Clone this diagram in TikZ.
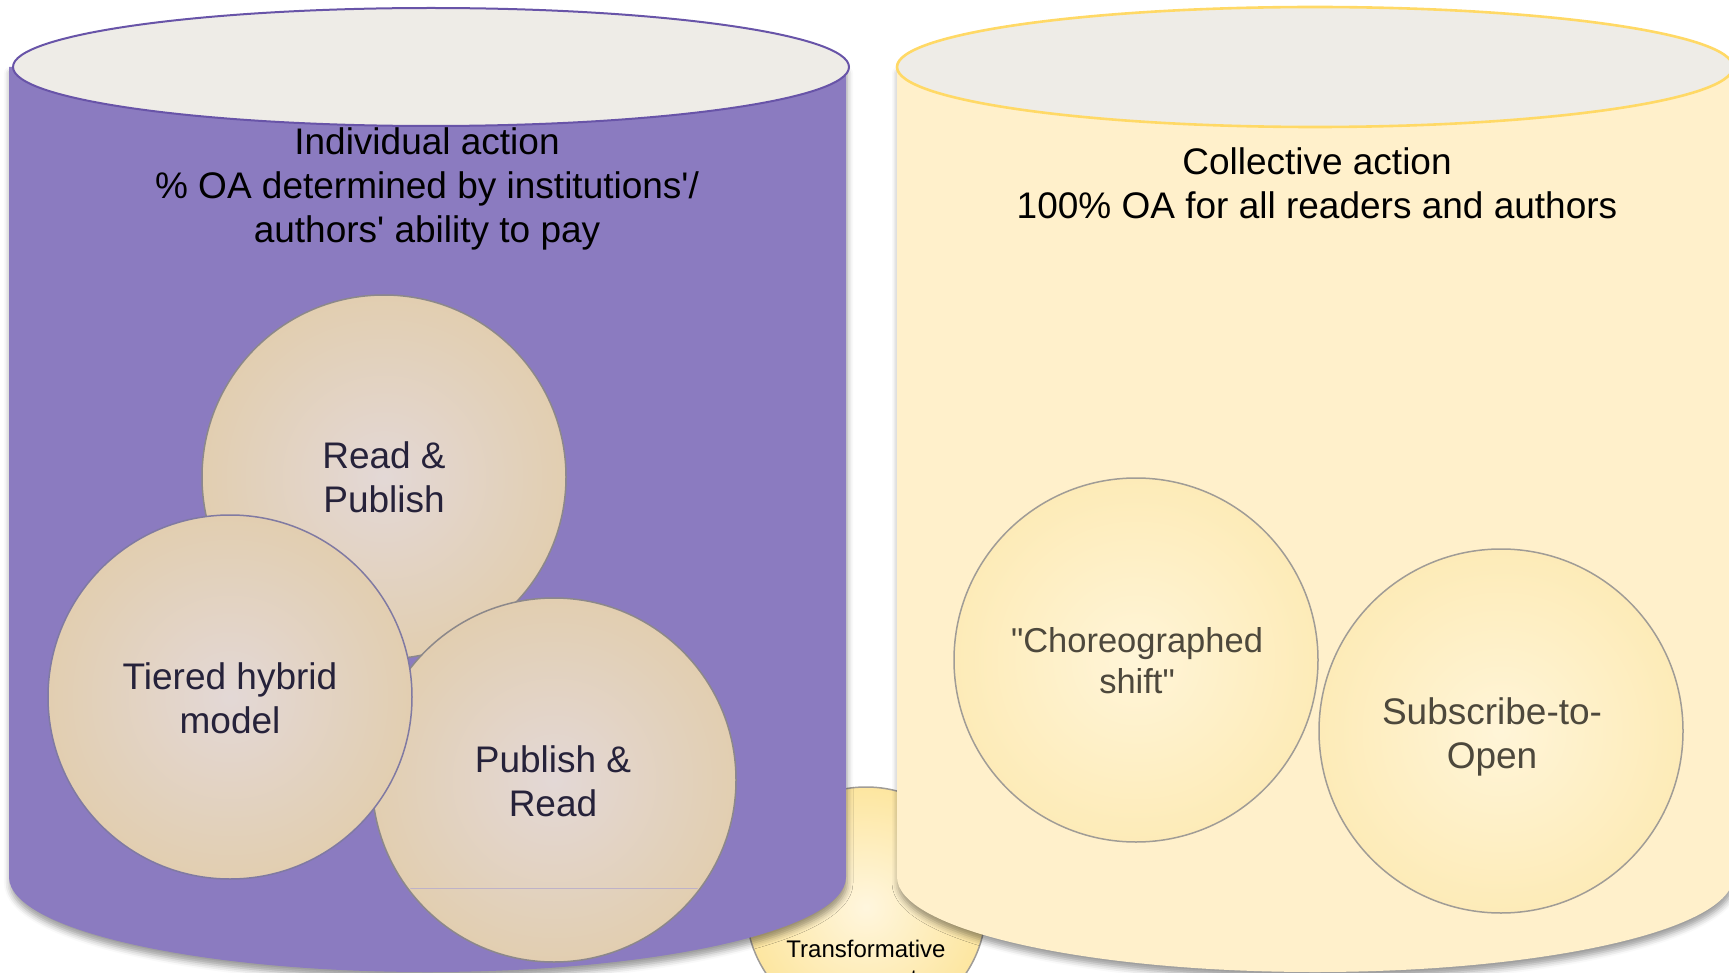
\documentclass[tikz,border=0pt]{standalone}
\usepackage{fontspec}
\setmainfont{Liberation Sans}
\usetikzlibrary{shadows.blur}
\definecolor{cylpurple}{RGB}{139,123,192}
\definecolor{cylpurpleline}{RGB}{104,84,168}
\definecolor{cylyellow}{RGB}{255,240,203}
\definecolor{cylyellowline}{RGB}{255,217,102}
\definecolor{lidgray}{RGB}{238,236,231}
\definecolor{tanedge}{RGB}{140,136,138}
\definecolor{tieredge}{RGB}{128,122,162}
\definecolor{goldedge}{RGB}{160,156,150}
\definecolor{tanin}{RGB}{227,216,214}
\definecolor{tanmid}{RGB}{226,205,172}
\definecolor{tanout}{RGB}{223,193,140}
\definecolor{goldin}{RGB}{255,245,216}
\definecolor{goldmid}{RGB}{253,234,180}
\definecolor{goldout}{RGB}{250,222,140}
\definecolor{trin}{RGB}{255,246,222}
\definecolor{trmid}{RGB}{253,230,160}
\definecolor{trout}{RGB}{250,212,105}
\definecolor{leftink}{RGB}{38,34,58}
\definecolor{rightink}{RGB}{77,72,60}
\definecolor{bandline}{RGB}{190,178,200}
\pgfdeclareradialshading{tanball}{\pgfpoint{0bp}{0bp}}{color(0bp)=(tanin); color(28bp)=(tanmid); color(50bp)=(tanout)}
\pgfdeclareradialshading{goldball}{\pgfpoint{0bp}{0bp}}{color(0bp)=(goldin); color(28bp)=(goldmid); color(50bp)=(goldout)}
\pgfdeclareradialshading{trball}{\pgfpoint{0bp}{0bp}}{color(0bp)=(trin); color(25bp)=(trmid); color(50bp)=(trout)}
\tikzset{
  ball/.style={circle, minimum size=182pt, inner sep=0pt, outer sep=0pt, line width=0.75pt},
  tanb/.style={ball, shading=tanball, draw=tanedge},
  goldb/.style={ball, shading=goldball, draw=goldedge},
  lbl/.style={font=\fontsize{18.5pt}{22pt}\selectfont, align=center, inner sep=0pt, anchor=base},
  cylshadow/.style={blur shadow={shadow xshift=0.5pt, shadow yshift=-3pt, shadow blur radius=3pt, shadow opacity=40}}
}
\begin{document}
\begin{tikzpicture}[x=0.5pt, y=-0.5pt]
\useasboundingbox (0,0) rectangle (1729,973);
\clip (0,0) rectangle (1729,973);

% Transformative circle (behind cylinders)
\node[ball, minimum size=120pt, shading=trball, draw=goldedge] (tr) at (866,907) {};

% left cylinder
\path[fill=cylpurple, cylshadow] (9,67) -- (9,877)
  arc[start angle=180, end angle=0, x radius=418.5, y radius=95] -- (846,67) -- cycle;
\draw[fill=lidgray, draw=cylpurpleline, line width=1pt] (431,67) ellipse[x radius=418, y radius=59];

% right cylinder
\path[fill=cylyellow, cylshadow] (897,67) -- (897,877)
  arc[start angle=180, end angle=0, x radius=418, y radius=95] -- (1733,67) -- cycle;
\draw[fill=lidgray, draw=cylyellowline, line width=1.3pt] (1315,67) ellipse[x radius=418, y radius=60];

% left circles
\node[tanb] (rp) at (384,477) {};
\node[tanb] (pr) at (554,780) {};
\begin{scope}
  \clip (554,780) circle[radius=180];
  \draw[bandline, line width=0.5pt] (360,888) -- (750,888);
\end{scope}
\node[tanb, draw=tieredge] (th) at (230,697) {};

% right circles
\node[goldb] (cs) at (1136,660) {};
\node[goldb] (so) at (1501,731) {};

% headings (anchor = baseline of last line)
\node[lbl] (lhead) at (427,243) {Individual action\\\% OA determined by institutions\textquotesingle/\\authors\textquotesingle{} ability to pay};
\node[lbl] (rhead) at (1317,219) {Collective action\\100\% OA for all readers and authors};

% circle labels
\node[lbl, text=leftink] (rpt) at (384,512) {Read \&\\Publish};
\node[lbl, text=leftink] (prt) at (553,816) {Publish \&\\Read};
\node[lbl, text=leftink] (tht) at (230,733) {Tiered hybrid\\model};
\node[lbl, text=rightink, font=\fontsize{17.25pt}{20.5pt}\selectfont] (cst) at (1137,693) {\textquotedbl Choreographed\\shift\textquotedbl};
\node[lbl, text=rightink] (sot) at (1492,768) {Subscribe-to-\\Open};
\node[lbl, font=\fontsize{12pt}{14.5pt}\selectfont] (trt) at (866,986) {Transformative\\agreements};
\end{tikzpicture}
\end{document}
